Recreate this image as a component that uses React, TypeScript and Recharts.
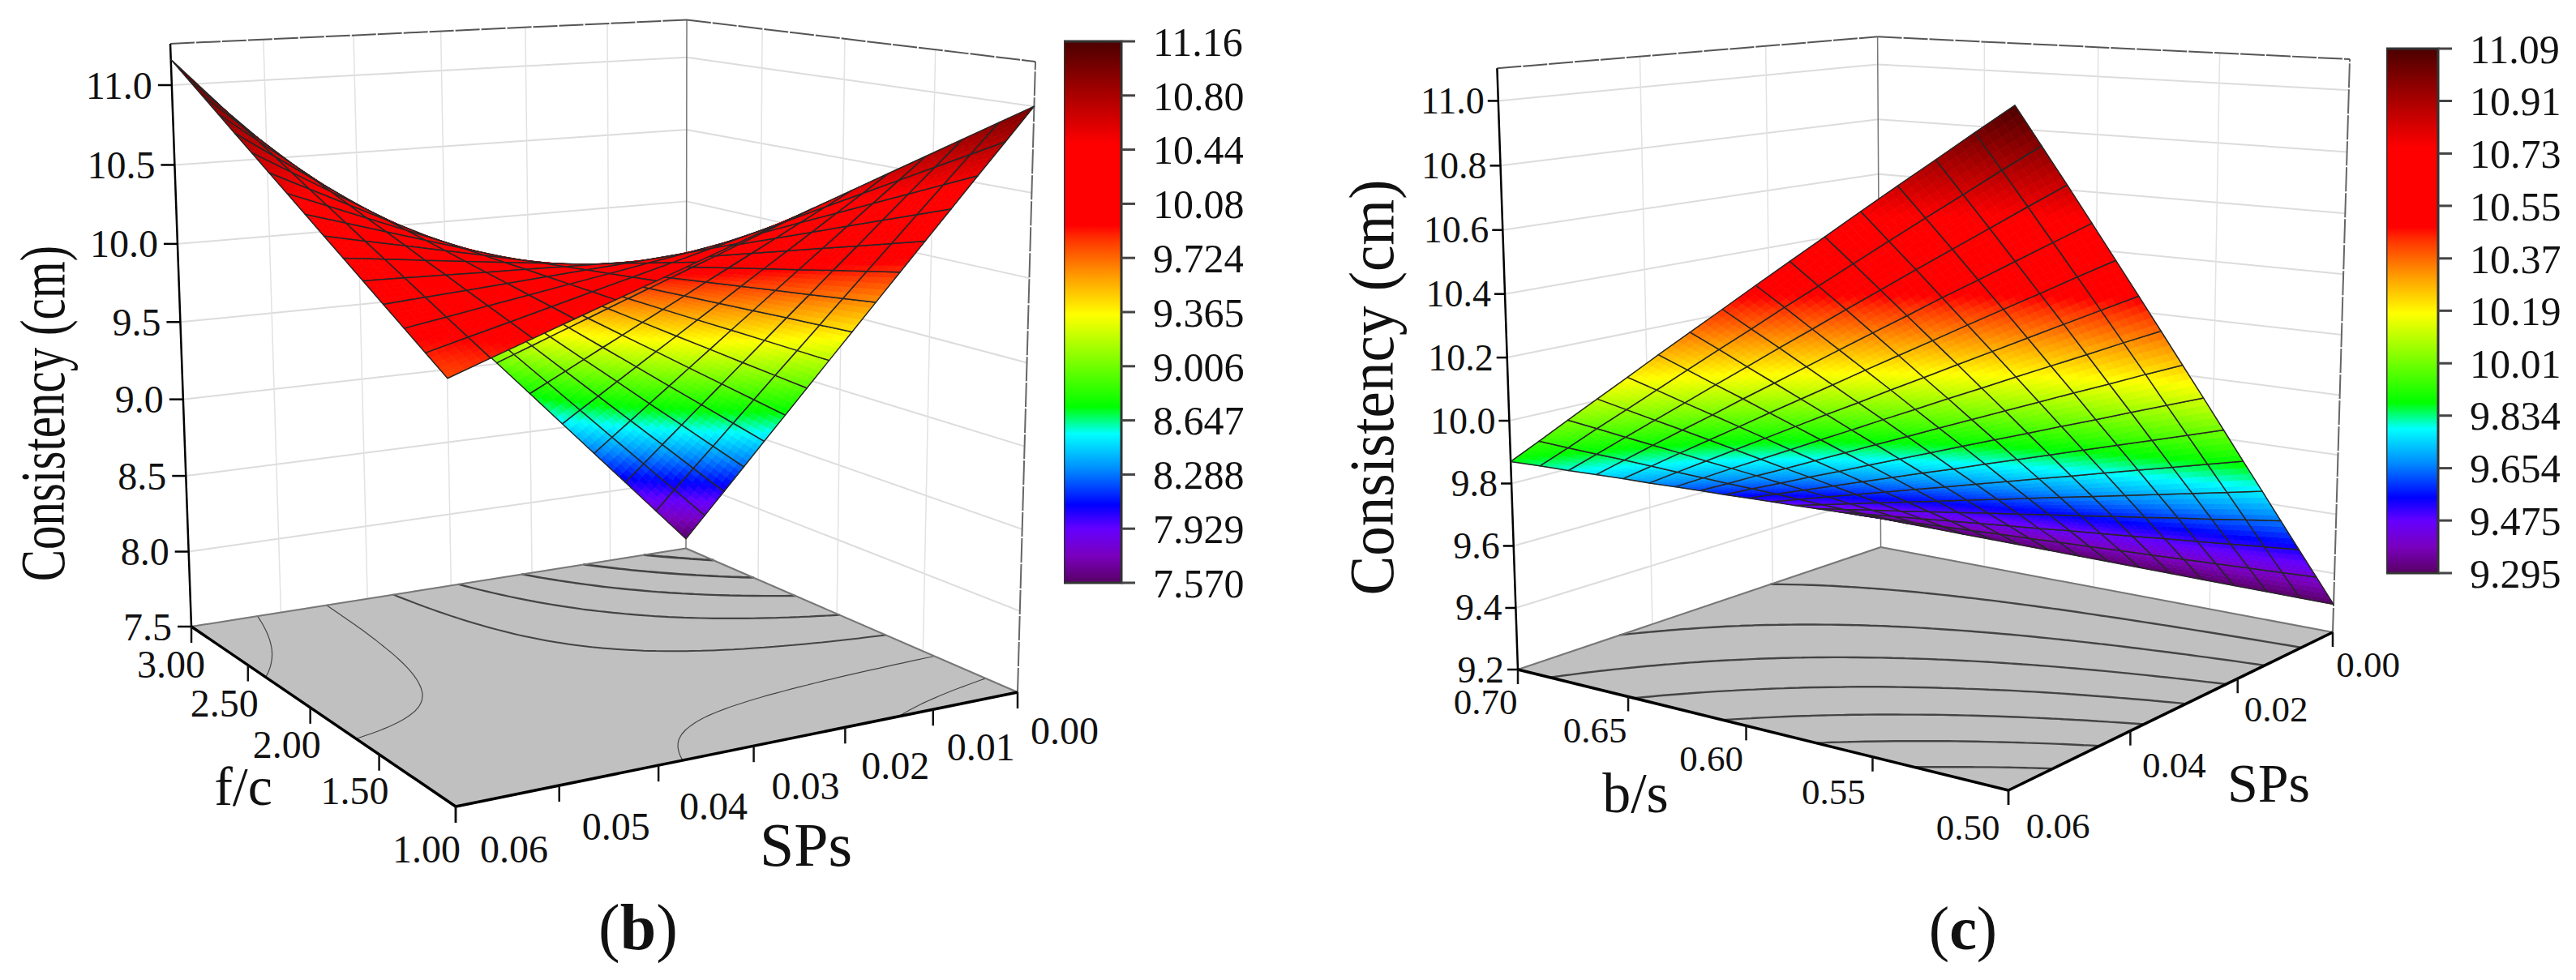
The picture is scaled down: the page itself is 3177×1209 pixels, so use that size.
import React from 'react';
import { ScatterChart, Scatter, XAxis, YAxis, BarChart, Bar } from 'recharts';

const W = 3177, H = 1209;
const FONT = '"Liberation Serif", "Times New Roman", serif';

// ---------- values ----------
// rows: f/c from 1.00 to 3.00, columns: SPs from 0.00 to 0.06
const consistencyB = [
  [11.000,10.920,10.840,10.760,10.680,10.600,10.520,10.440,10.360,10.280,10.200,10.120,10.040,9.960,9.880,9.800],
  [10.771,10.712,10.654,10.595,10.536,10.478,10.419,10.360,10.302,10.243,10.184,10.126,10.067,10.008,9.950,9.891],
  [10.543,10.506,10.468,10.431,10.393,10.356,10.318,10.281,10.243,10.206,10.168,10.131,10.093,10.056,10.018,9.981],
  [10.314,10.298,10.282,10.266,10.249,10.233,10.217,10.201,10.185,10.169,10.153,10.137,10.120,10.104,10.088,10.072],
  [10.085,10.090,10.095,10.101,10.106,10.111,10.116,10.121,10.127,10.132,10.137,10.142,10.147,10.153,10.158,10.163],
  [9.857,9.883,9.910,9.936,9.963,9.989,10.015,10.042,10.068,10.095,10.121,10.147,10.174,10.200,10.227,10.253],
  [9.628,9.676,9.723,9.771,9.819,9.867,9.914,9.962,10.010,10.058,10.105,10.153,10.201,10.249,10.296,10.344],
  [9.399,9.468,9.537,9.606,9.675,9.744,9.813,9.882,9.952,10.021,10.090,10.159,10.228,10.297,10.366,10.435],
  [9.171,9.261,9.352,9.442,9.532,9.622,9.713,9.803,9.893,9.983,10.074,10.164,10.254,10.344,10.435,10.525],
  [8.942,9.054,9.165,9.277,9.388,9.500,9.612,9.723,9.835,9.946,10.058,10.170,10.281,10.393,10.504,10.616],
  [8.713,8.846,8.979,9.112,9.245,9.378,9.511,9.644,9.776,9.909,10.042,10.175,10.308,10.441,10.574,10.707],
  [8.485,8.639,8.793,8.947,9.102,9.256,9.410,9.564,9.718,9.872,10.026,10.180,10.335,10.489,10.643,10.797],
  [8.256,8.431,8.607,8.782,8.958,9.133,9.309,9.484,9.660,9.835,10.011,10.186,10.362,10.537,10.713,10.888],
  [8.027,8.224,8.421,8.617,8.814,9.011,9.208,9.405,9.601,9.798,9.995,10.192,10.389,10.585,10.782,10.979],
  [7.799,8.017,8.235,8.453,8.671,8.889,9.107,9.325,9.543,9.761,9.979,10.197,10.415,10.633,10.851,11.069],
  [7.570,7.809,8.049,8.288,8.527,8.767,9.006,9.245,9.485,9.724,9.963,10.203,10.442,10.681,10.921,11.160],
];
// rows: b/s from 0.50 to 0.70, columns: SPs from 0.00 to 0.06
const consistencyC = [
  [9.295,9.415,9.534,9.654,9.774,9.893,10.013,10.133,10.252,10.372,10.492,10.611,10.731,10.851,10.970,11.090],
  [9.296,9.410,9.524,9.639,9.753,9.867,9.981,10.095,10.210,10.324,10.438,10.552,10.666,10.781,10.895,11.009],
  [9.297,9.406,9.514,9.623,9.732,9.840,9.949,10.058,10.166,10.275,10.384,10.492,10.601,10.710,10.818,10.927],
  [9.298,9.401,9.504,9.608,9.711,9.814,9.917,10.020,10.124,10.227,10.330,10.433,10.536,10.640,10.743,10.846],
  [9.299,9.397,9.494,9.592,9.690,9.788,9.885,9.983,10.081,10.179,10.276,10.374,10.472,10.570,10.667,10.765],
  [9.300,9.392,9.484,9.577,9.669,9.761,9.853,9.945,10.038,10.130,10.222,10.314,10.406,10.499,10.591,10.683],
  [9.301,9.388,9.474,9.561,9.648,9.735,9.821,9.908,9.995,10.082,10.168,10.255,10.342,10.429,10.515,10.602],
  [9.302,9.383,9.465,9.546,9.627,9.708,9.790,9.871,9.952,10.033,10.115,10.196,10.277,10.358,10.440,10.521],
  [9.303,9.379,9.454,9.530,9.606,9.682,9.757,9.833,9.909,9.985,10.060,10.136,10.212,10.288,10.363,10.439],
  [9.304,9.374,9.445,9.515,9.585,9.655,9.726,9.796,9.866,9.936,10.007,10.077,10.147,10.217,10.288,10.358],
  [9.305,9.370,9.435,9.499,9.564,9.629,9.694,9.759,9.823,9.888,9.953,10.018,10.083,10.147,10.212,10.277],
  [9.306,9.365,9.425,9.484,9.543,9.602,9.662,9.721,9.780,9.839,9.899,9.958,10.017,10.076,10.136,10.195],
  [9.307,9.361,9.415,9.468,9.522,9.576,9.630,9.684,9.737,9.791,9.845,9.899,9.953,10.006,10.060,10.114],
  [9.308,9.356,9.405,9.453,9.501,9.550,9.598,9.646,9.695,9.743,9.791,9.840,9.888,9.936,9.985,10.033],
  [9.309,9.352,9.395,9.437,9.480,9.523,9.566,9.609,9.651,9.694,9.737,9.780,9.823,9.865,9.908,9.951],
  [9.310,9.347,9.385,9.422,9.459,9.497,9.534,9.571,9.609,9.646,9.683,9.721,9.758,9.795,9.833,9.870],
];
const contourLevelsB = [10.72, 10.25, 9.78, 9.31, 8.84, 8.37, 7.90];
const contourWidthsB = [1.2, 1.2, 2, 2.2, 2.4, 2.6, 2.8];
const contourLevelsC = [10.88, 10.65, 10.42, 10.19, 9.96, 9.73, 9.50];
const contourWidthsC = [2.4, 2.4, 2.4, 2.4, 2.4, 2.4, 2.4];

const zTicksB = [7.5, 8, 8.5, 9, 9.5, 10, 10.5, 11];
const zLabelsB = ['7.5', '8.0', '8.5', '9.0', '9.5', '10.0', '10.5', '11.0'];
const zTicksC = [9.2, 9.4, 9.6, 9.8, 10, 10.2, 10.4, 10.6, 10.8, 11];
const zLabelsC = ['9.2', '9.4', '9.6', '9.8', '10.0', '10.2', '10.4', '10.6', '10.8', '11.0'];

const spTicksB = [0, 0.01, 0.02, 0.03, 0.04, 0.05, 0.06];
const spLabelsB = ['0.00', '0.01', '0.02', '0.03', '0.04', '0.05', '0.06'];
const fcTicksB = [1, 1.5, 2, 2.5, 3];
const fcLabelsB = ['1.00', '1.50', '2.00', '2.50', '3.00'];
const spTicksC = [0, 0.02, 0.04, 0.06];
const spLabelsC = ['0.00', '0.02', '0.04', '0.06'];
const bsTicksC = [0.5, 0.55, 0.6, 0.65, 0.7];
const bsLabelsC = ['0.50', '0.55', '0.60', '0.65', '0.70'];

const barTicksB = [7.57, 7.929, 8.288, 8.647, 9.006, 9.365, 9.724, 10.083, 10.442, 10.801, 11.16];
const barLabelsB = ['7.570', '7.929', '8.288', '8.647', '9.006', '9.365', '9.724', '10.08', '10.44', '10.80', '11.16'];
const barTicksC = [9.295, 9.475, 9.654, 9.834, 10.013, 10.193, 10.372, 10.552, 10.731, 10.911, 11.09];
const barLabelsC = ['9.295', '9.475', '9.654', '9.834', '10.01', '10.19', '10.37', '10.55', '10.73', '10.91', '11.09'];

// colour map, as seen on the colour bars
const colorStops: [number, number[]][] = [
  [0, [88, 0, 100]], [0.05, [122, 0, 190]], [0.1, [100, 0, 255]], [0.144, [0, 0, 255]],
  [0.21, [0, 140, 255]], [0.275, [0, 255, 255]], [0.325, [0, 255, 0]], [0.495, [255, 255, 0]],
  [0.57, [255, 150, 0]], [0.635, [255, 50, 0]], [0.66, [255, 0, 0]], [0.81, [255, 0, 0]],
  [0.9, [170, 0, 0]], [1, [75, 0, 0]],
];

// ---------- projection ----------
type P = [number, number];
function intersect(a: P, b: P, c: P, d: P): P {
  const d1x = b[0] - a[0], d1y = b[1] - a[1], d2x = d[0] - c[0], d2y = d[1] - c[1];
  const t = ((c[0] - a[0]) * d2y - (c[1] - a[1]) * d2x) / (d1x * d2y - d1y * d2x);
  return [a[0] + t * d1x, a[1] + t * d1y];
}
function quadMap(p00: P, p10: P, p11: P, p01: P) {
  const dx1 = p10[0] - p11[0], dx2 = p01[0] - p11[0], sx = p00[0] - p10[0] + p11[0] - p01[0];
  const dy1 = p10[1] - p11[1], dy2 = p01[1] - p11[1], sy = p00[1] - p10[1] + p11[1] - p01[1];
  const den = dx1 * dy2 - dx2 * dy1;
  const g = (sx * dy2 - dx2 * sy) / den, h = (dx1 * sy - sx * dy1) / den;
  const a = p10[0] - p00[0] + g * p10[0], b = p01[0] - p00[0] + h * p01[0], c = p00[0];
  const d = p10[1] - p00[1] + g * p10[1], e = p01[1] - p00[1] + h * p01[1], f = p00[1];
  return (u: number, v: number): P => {
    const w = g * u + h * v + 1;
    return [(a * u + b * v + c) / w, (d * u + e * v + f) / w];
  };
}
interface Box { front: P; right: P; back: P; left: P; topLeft: P; topBack: P; topRight: P; zMin: number; zTop: number; a: number }
function makeProjector(b: Box) {
  const vp1 = intersect(b.left, b.back, b.front, b.right);
  const vp2 = intersect(b.left, b.front, b.back, b.right);
  const topFront = intersect(b.topLeft, vp2, b.topRight, vp1);
  const floor = quadMap(b.front, b.right, b.back, b.left);
  const top = quadMap(topFront, b.topRight, b.topBack, b.topLeft);
  return (u: number, v: number, z: number): P => {
    const t = (z - b.zMin) / (b.zTop - b.zMin);
    const k = t / (b.a - (b.a - 1) * t);
    const F = floor(u, v), T = top(u, v);
    return [F[0] + (T[0] - F[0]) * k, F[1] + (T[1] - F[1]) * k];
  };
}
function colorAt(t0: number) {
  const t = Math.max(0, Math.min(1, t0));
  for (let i = 1; i < colorStops.length; i++) {
    if (t <= colorStops[i][0]) {
      const [a, ca] = colorStops[i - 1], [b, cb] = colorStops[i];
      const f = (t - a) / (b - a);
      const c = ca.map((x, k) => Math.round(x + (cb[k] - x) * f));
      return `rgb(${c[0]},${c[1]},${c[2]})`;
    }
  }
  return 'rgb(75,0,0)';
}

// ---------- mark builders ----------
const poly = (pts: P[]) => 'M' + pts.map((p) => `${p[0].toFixed(1)} ${p[1].toFixed(1)}`).join('L') + 'Z';
const seg = (a: P, b: P, stroke: string, w: number, dash?: string) => ({ px: a[0], py: a[1], qx: b[0], qy: b[1], stroke, w, dash });

interface Panel {
  box: Box; table: number[][]; cMin: number; cMax: number;
  levels: number[]; widths: number[]; zTicks: number[]; zLabels: string[];
  spTicks: number[]; spLabels: string[]; spOffsets: P[]; spMax: number;
  vTicks: number[]; vLabels: string[]; vOffsets: P[]; vMin: number; vMax: number;
  zTickLen: number; zLabelGap: number; zFont: number; tickFont: number; vGrid: number[]; spGrid: number[];
  contourColor: string; tickLen: number;
}

function buildPanel(p: Panel) {
  const { box } = p;
  const project = makeProjector(box);
  const uOf = (sp: number) => 1 - sp / p.spMax;
  const vOf = (val: number) => (val - p.vMin) / (p.vMax - p.vMin);
  const zMin = box.zMin, zTop = box.zTop;
  const grid: any[] = [];
  const light = '#dcdcdc';
  // walls
  p.zTicks.forEach((z) => {
    grid.push(seg(project(0, 1, z), project(1, 1, z), light, 2));
    grid.push(seg(project(1, 1, z), project(1, 0, z), light, 2));
  });
  p.spGrid.forEach((sp) => grid.push(seg(project(uOf(sp), 1, zMin), project(uOf(sp), 1, zTop), '#e2e2e2', 1.5)));
  p.vGrid.forEach((v) => grid.push(seg(project(1, vOf(v), zMin), project(1, vOf(v), zTop), '#e2e2e2', 1.5)));
  grid.push(seg(project(1, 1, zMin), project(1, 1, zTop), '#777', 1.5));
  grid.push(seg(project(1, 0, zMin), project(1, 0, zTop), '#666', 2, '30 2'));
  grid.push(seg(project(0, 1, zTop), project(1, 1, zTop), '#555', 2, '30 2'));
  grid.push(seg(project(1, 1, zTop), project(1, 0, zTop), '#555', 2, '30 2'));

  // floor
  const fl = [project(0, 0, zMin), project(1, 0, zMin), project(1, 1, zMin), project(0, 1, zMin)];
  const floorItem = [{ px: fl[0][0], py: fl[0][1], d: poly(fl), fill: '#c0c0c0' }];

  // contours, traced over the table on the floor
  const n = p.table.length - 1;
  const sample = (ci: number, cj: number) => {
    const i = Math.min(Math.floor(ci), n - 1), j = Math.min(Math.floor(cj), n - 1);
    const a = ci - i, b = cj - j;
    return (1 - a) * (1 - b) * p.table[j][i] + a * (1 - b) * p.table[j][i + 1] + (1 - a) * b * p.table[j + 1][i] + a * b * p.table[j + 1][i + 1];
  };
  const toFloor = (ci: number, cj: number) => project(1 - ci / n, cj / n, zMin);
  const contours = p.levels.map((lv, idx) => {
    let d = '';
    const S = 4;
    for (let cj = 0; cj < n * S; cj++) for (let ci = 0; ci < n * S; ci++) {
      const c = [[ci, cj], [ci + 1, cj], [ci + 1, cj + 1], [ci, cj + 1]].map(([a, b]) => [a / S, b / S, sample(a / S, b / S)]);
      const hits: P[] = [];
      for (let e = 0; e < 4; e++) {
        const A = c[e], B = c[(e + 1) % 4];
        if ((A[2] >= lv) !== (B[2] >= lv)) {
          const f = (lv - A[2]) / (B[2] - A[2]);
          hits.push(toFloor(A[0] + (B[0] - A[0]) * f, A[1] + (B[1] - A[1]) * f));
        }
      }
      if (hits.length >= 2) d += `M${hits[0][0].toFixed(1)} ${hits[0][1].toFixed(1)}L${hits[1][0].toFixed(1)} ${hits[1][1].toFixed(1)}`;
    }
    return { px: fl[0][0], py: fl[0][1], d, w: p.widths[idx], stroke: p.contourColor };
  });

  // floor edges and axis
  const edges: any[] = [
    seg(project(0, 1, zMin), project(1, 1, zMin), '#777', 2),
    seg(project(1, 1, zMin), project(1, 0, zMin), '#777', 2),
    seg(project(0, 0, zMin), project(0, 1, zMin), '#000', 3.5),
    seg(project(0, 0, zMin), project(1, 0, zMin), '#000', 3.5),
    seg(project(0, 1, zMin), project(0, 1, zTop), '#000', 2.5),
  ];
  const texts: any[] = [];
  const zp = (u: number, v: number, z: number) => project(u, v, z);
  p.zTicks.forEach((z, i) => {
    const a = zp(0, 1, z);
    edges.push(seg([a[0] - p.zTickLen, a[1]], a, '#000', 2.5));
    texts.push({ px: a[0] - p.zLabelGap, py: a[1], text: p.zLabels[i], size: p.zFont, anchor: 'end' });
  });
  p.spTicks.forEach((sp, i) => {
    const a = zp(uOf(sp), 0, zMin);
    edges.push(seg(a, [a[0], a[1] + p.tickLen], '#111', 2.5));
    texts.push({ px: a[0] + p.spOffsets[i][0], py: a[1] + p.spOffsets[i][1], text: p.spLabels[i], size: p.tickFont, anchor: 'middle' });
  });
  p.vTicks.forEach((v, i) => {
    const a = zp(0, vOf(v), zMin);
    edges.push(seg(a, [a[0], a[1] + p.tickLen], '#111', 2.5));
    texts.push({ px: a[0] + p.vOffsets[i][0], py: a[1] + p.vOffsets[i][1], text: p.vLabels[i], size: p.tickFont, anchor: 'middle' });
  });

  // surface cells, farthest first
  const cells: any[] = [];
  const S = 5;
  for (let j = n - 1; j >= 0; j--) for (let i = 0; i < n; i++) {
    const pos = (a: number, b: number) => project(1 - (i + a) / n, (j + b) / n, sample(i + a, j + b));
    let fill: { d: string; c: string }[] = [];
    for (let sb = 0; sb < S; sb++) for (let sa = 0; sa < S; sa++) {
      const a0 = sa / S, a1 = (sa + 1) / S, b0 = sb / S, b1 = (sb + 1) / S;
      const z = sample(i + (a0 + a1) / 2, j + (b0 + b1) / 2);
      fill.push({ d: poly([pos(a0, b0), pos(a1, b0), pos(a1, b1), pos(a0, b1)]), c: colorAt((z - p.cMin) / (p.cMax - p.cMin)) });
    }
    const o = pos(0, 0);
    cells.push({ px: o[0], py: o[1], fill, outline: poly([pos(0, 0), pos(1, 0), pos(1, 1), pos(0, 1)]) });
  }
  return { grid, floorItem, contours, edges, texts, cells };
}

const panelB: Panel = {
  box: { front: [562, 995], right: [1255, 854], back: [846, 676.5], left: [236, 773], topLeft: [210, 54], topBack: [847, 24.5], topRight: [1277, 76], zMin: 7.5, zTop: 11.257, a: 1.04 },
  table: consistencyB, cMin: 7.57, cMax: 11.16, levels: contourLevelsB, widths: contourWidthsB,
  zTicks: zTicksB, zLabels: zLabelsB, spTicks: spTicksB, spLabels: spLabelsB, spMax: 0.06,
  spOffsets: [[58, 47], [59, 46], [62, 47], [64, 49], [68, 50], [70, 50], [72, 52]],
  vTicks: fcTicksB, vLabels: fcLabelsB, vMin: 1, vMax: 3,
  vOffsets: [[-36, 52], [-30, 45], [-29, 46], [-29, 47], [-25, 46]],
  zTickLen: 17, zLabelGap: 24, zFont: 48, tickFont: 48,
  vGrid: [1.5, 2, 2.5], spGrid: [0.01, 0.02, 0.03, 0.04, 0.05],
  contourColor: '#444', tickLen: 20,
};
const panelC: Panel = {
  box: { front: [2477, 975], right: [2877, 780], back: [2319.6, 675], left: [1872, 826], topLeft: [1846.4, 84.3], topBack: [2315.6, 45.3], topRight: [2898, 73], zMin: 9.2, zTop: 11.1, a: 1.03 },
  table: consistencyC, cMin: 9.295, cMax: 11.09, levels: contourLevelsC, widths: contourWidthsC,
  zTicks: zTicksC, zLabels: zLabelsC, spTicks: spTicksC, spLabels: spLabelsC, spMax: 0.06,
  spOffsets: [[43.5, 40], [47.5, 38], [54, 42], [61, 44]],
  vTicks: bsTicksC, vLabels: bsLabelsC, vMin: 0.5, vMax: 0.7,
  vOffsets: [[-50, 46], [-48, 43], [-43, 41], [-41, 41], [-40, 40]],
  zTickLen: 13, zLabelGap: 17, zFont: 46, tickFont: 45,
  vGrid: [0.55, 0.6, 0.65], spGrid: [0.02, 0.04],
  contourColor: '#444', tickLen: 18,
};

const dataB = buildPanel(panelB);
const dataC = buildPanel(panelC);

const titles = [
  { px: 79, py: 510, text: 'Consistency (cm)', size: 59, rotate: -90, sy: 1.33 },
  { px: 1718, py: 478, text: 'Consistency (cm)', size: 73, rotate: -90, sy: 1.08 },
  { px: 994, py: 1042, text: 'SPs', size: 76, anchor: 'middle' },
  { px: 300, py: 970, text: 'f/c', size: 68, anchor: 'middle' },
  { px: 2798, py: 966, text: 'SPs', size: 68, anchor: 'middle' },
  { px: 2017, py: 978, text: 'b/s', size: 70, anchor: 'middle' },
  { px: 787, py: 1144, text: '(b)', size: 80, anchor: 'middle', boldMiddle: true },
  { px: 2421, py: 1145, text: '(c)', size: 76, anchor: 'middle', boldMiddle: true },
];

// ---------- shapes ----------
const SegmentShape = (props: any) => {
  const { cx, cy, payload: s } = props;
  return <line x1={cx} y1={cy} x2={cx + s.qx - s.px} y2={cy + s.qy - s.py} stroke={s.stroke} strokeWidth={s.w} strokeDasharray={s.dash} />;
};
const PathShape = (props: any) => {
  const { cx, cy, payload: s } = props;
  return <path transform={`translate(${cx - s.px} ${cy - s.py})`} d={s.d} fill={s.fill || 'none'} stroke={s.stroke || 'none'} strokeWidth={s.w || 0} strokeLinecap="round" />;
};
const CellShape = (props: any) => {
  const { cx, cy, payload: s } = props;
  return (
    <g transform={`translate(${cx - s.px} ${cy - s.py})`}>
      {s.fill.map((f: any, i: number) => <path key={i} d={f.d} fill={f.c} stroke={f.c} strokeWidth={0.8} />)}
      <path d={s.outline} fill="none" stroke="#262626" strokeWidth={1.5} strokeLinejoin="round" />
    </g>
  );
};
const TextShape = (props: any) => {
  const { cx, cy, payload: s } = props;
  if (s.rotate) {
    return (
      <text transform={`translate(${cx} ${cy}) rotate(${s.rotate}) scale(1 ${s.sy})`} textAnchor="middle" fontFamily={FONT} fontSize={s.size} fill="#111">{s.text}</text>
    );
  }
  if (s.boldMiddle) {
    return (
      <text x={cx} y={cy} textAnchor="middle" dominantBaseline="central" fontFamily={FONT} fontSize={s.size} fill="#111">
        ({<tspan fontWeight="bold">{s.text.slice(1, -1)}</tspan>})
      </text>
    );
  }
  return <text x={cx} y={cy} textAnchor={s.anchor} dominantBaseline="central" fontFamily={FONT} fontSize={s.size} fill="#111">{s.text}</text>;
};

const layer = (key: string, data: any[], shape: any) => (
  <Scatter key={key} data={data} shape={shape} isAnimationActive={false} dataKey="py" />
);

function ColorBar({ id, x0, top, bottom, width, ticks, labels }: any) {
  const min = ticks[0], max = ticks[ticks.length - 1];
  const axisW = 150;
  const stops = colorStops.map(([t], i) => <stop key={i} offset={`${(1 - t) * 100}%`} stopColor={colorAt(t)} />).reverse();
  return (
    <div style={{ position: 'absolute', left: x0, top: 0 }}>
      <BarChart width={width + axisW} height={bottom + 40} data={[{ name: id, range: [min, max] }]}
        margin={{ top, right: 0, left: 0, bottom: 40 }} barCategoryGap={0}>
        <defs>
          <linearGradient id={id} x1="0" y1="0" x2="0" y2="1">{stops}</linearGradient>
        </defs>
        <XAxis dataKey="name" hide />
        <YAxis orientation="right" type="number" width={axisW} domain={[min, max]} ticks={ticks} interval={0}
          tickFormatter={(v: number) => labels[ticks.indexOf(v)]} tickSize={17} tickMargin={22} axisLine={false}
          tickLine={{ stroke: '#444', strokeWidth: 3 }} tick={{ fontSize: 50, fontFamily: FONT, fill: '#111', textAnchor: 'start' }} />
        <Bar dataKey="range" fill={`url(#${id})`} stroke="#333" strokeWidth={3} isAnimationActive={false} />
      </BarChart>
    </div>
  );
}

export default function App() {
  const order = (d: ReturnType<typeof buildPanel>, k: string) => [
    layer(k + 'grid', d.grid, SegmentShape),
    layer(k + 'floor', d.floorItem, PathShape),
    layer(k + 'cont', d.contours, PathShape),
    layer(k + 'edges', d.edges, SegmentShape),
    layer(k + 'cells', d.cells, CellShape),
    layer(k + 'texts', d.texts, TextShape),
  ];
  return (
    <div style={{ position: 'absolute', left: 0, top: 0, width: W, height: H, background: '#fff', overflow: 'hidden' }}>
      <div style={{ position: 'absolute', left: 0, top: 0 }}>
        <ScatterChart width={W} height={H} margin={{ top: 0, right: 0, bottom: 0, left: 0 }}>
          <XAxis type="number" dataKey="px" domain={[0, W]} hide allowDataOverflow />
          <YAxis type="number" dataKey="py" domain={[0, H]} reversed hide allowDataOverflow />
          {order(dataB, 'b')}
          {order(dataC, 'c')}
          {layer('titles', titles, TextShape)}
        </ScatterChart>
      </div>
      <ColorBar id="gradB" x0={1312} top={51} bottom={719} width={71} ticks={barTicksB} labels={barLabelsB} />
      <ColorBar id="gradC" x0={2943} top={60} bottom={707} width={64} ticks={barTicksC} labels={barLabelsC} />
    </div>
  );
}
